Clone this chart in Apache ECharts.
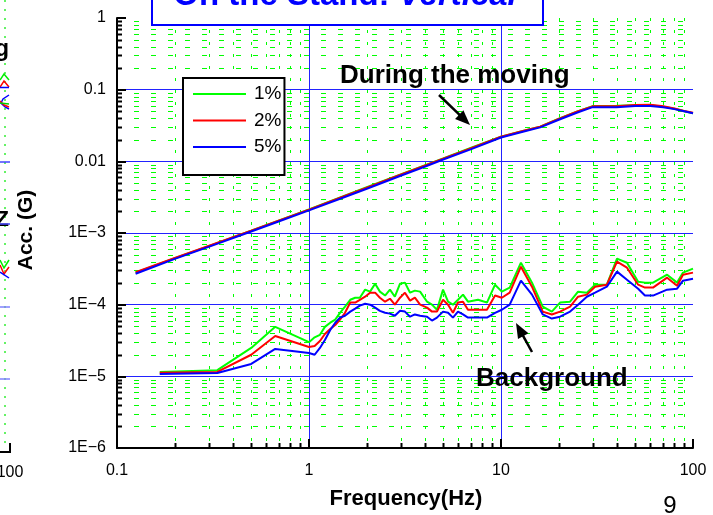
<!DOCTYPE html>
<html>
<head>
<meta charset="utf-8">
<script src="https://cdn.jsdelivr.net/npm/echarts@6.0.0/dist/echarts.min.js"></script>
<style>
html, body { margin: 0; padding: 0; background: #fff; }
#chart { width: 713px; height: 515px; }
</style>
</head>
<body>
<div id="chart"></div>
<script>
// Acceleration spectra on the stand, vertical direction (Hz vs G)
const seriesNames = ['1%', '2%', '5%'];
const seriesColors = ['#00ff00', '#ff0000', '#0000ff'];

// Spectrum while the stand is moving
const movingFreq = [0.125, 0.2, 0.3, 0.5, 0.7, 1, 1.5, 2, 3, 4, 5, 7, 10, 13, 16, 20, 25, 30, 40, 50, 60, 70, 80, 90, 100];
const moving1 = [2.8e-4, 4.45e-4, 6.55e-4, 1.08e-3, 1.5e-3, 2.13e-3, 3.25e-3, 4.35e-3, 6.55e-3, 8.8e-3, 1.1e-2, 1.55e-2, 2.2e-2, 2.65e-2, 3.05e-2, 3.95e-2, 4.95e-2, 5.9e-2, 5.95e-2, 6.05e-2, 6.05e-2, 5.8e-2, 5.4e-2, 5.0e-2, 4.7e-2];
const moving2 = [2.85e-4, 4.5e-4, 6.6e-4, 1.08e-3, 1.5e-3, 2.12e-3, 3.2e-3, 4.3e-3, 6.5e-3, 8.7e-3, 1.09e-2, 1.53e-2, 2.2e-2, 2.65e-2, 3.05e-2, 3.9e-2, 4.95e-2, 5.85e-2, 5.85e-2, 6.1e-2, 6.15e-2, 5.85e-2, 5.45e-2, 5.05e-2, 4.75e-2];
const moving5 = [2.7e-4, 4.35e-4, 6.4e-4, 1.05e-3, 1.46e-3, 2.07e-3, 3.1e-3, 4.15e-3, 6.3e-3, 8.4e-3, 1.06e-2, 1.48e-2, 2.15e-2, 2.58e-2, 2.98e-2, 3.8e-2, 4.8e-2, 5.7e-2, 5.7e-2, 5.9e-2, 5.9e-2, 5.7e-2, 5.35e-2, 5.0e-2, 4.7e-2];

// Background spectrum (stand at rest)
const bgFreq = [0.167, 0.333, 0.5, 0.667, 1.0,
  1.07, 1.14, 1.21, 1.29, 1.37, 1.45, 1.54, 1.64, 1.74, 1.84, 1.96,
  2.08, 2.21, 2.34, 2.49, 2.64, 2.8, 2.98,
  3.16, 3.36, 3.56, 3.79,
  4.12, 4.37, 4.64, 4.99,
  5.3, 5.62, 5.97,
  6.34, 6.73,
  7.59, 8.45, 9.31,
  10.1, 11.1, 12.7, 14.5, 16.5, 18.4,
  20.3, 22.9, 25.2, 28.0,
  30.9, 35.6,
  40.2, 45.3,
  51.8, 56.2, 61.9,
  73.3, 82.6, 88.7, 100];
const bg1 = [1.15e-5, 1.22e-5, 2.49e-5, 4.9e-5, 3.0e-5,
  3.5e-5, 3.8e-5, 4.9e-5, 5.6e-5, 6.2e-5, 7.7e-5, 9.4e-5, 1.17e-4, 1.25e-4, 1.25e-4, 1.62e-4,
  1.52e-4, 1.96e-4, 1.52e-4, 1.34e-4, 1.62e-4, 1.29e-4, 1.96e-4,
  2.03e-4, 1.47e-4, 1.57e-4, 1.52e-4,
  1.10e-4, 1.0e-4, 8.5e-5, 1.62e-4,
  1.10e-4, 1.0e-4, 1.17e-4,
  1.38e-4, 1.10e-4,
  1.17e-4, 1.07e-4, 1.90e-4,
  1.52e-4, 1.73e-4, 3.85e-4, 2.03e-4, 9.4e-5, 8.0e-5,
  1.07e-4, 1.10e-4, 1.52e-4, 1.47e-4,
  1.90e-4, 1.90e-4,
  4.38e-4, 3.85e-4,
  2.09e-4, 2.03e-4, 2.03e-4,
  2.62e-4, 2.03e-4, 2.80e-4, 3.18e-4];
const bg2 = [1.12e-5, 1.15e-5, 2.0e-5, 3.66e-5, 2.57e-5,
  2.65e-5, 3.11e-5, 3.9e-5, 4.58e-5, 5.2e-5, 6.2e-5, 7.7e-5, 1.07e-4, 1.07e-4, 1.17e-4, 1.29e-4,
  1.47e-4, 1.47e-4, 1.25e-4, 1.10e-4, 1.21e-4, 1.0e-4, 1.25e-4,
  1.47e-4, 1.14e-4, 1.25e-4, 1.0e-4,
  9.1e-5, 8.0e-5, 8.0e-5, 1.17e-4,
  1.0e-4, 7.7e-5, 1.07e-4,
  1.10e-4, 8.5e-5,
  8.5e-5, 8.5e-5, 1.34e-4,
  1.25e-4, 1.47e-4, 3.39e-4, 1.78e-4, 8.0e-5, 7.3e-5,
  8.0e-5, 9.4e-5, 1.29e-4, 1.38e-4,
  1.78e-4, 1.90e-4,
  3.98e-4, 3.28e-4,
  1.90e-4, 1.73e-4, 1.73e-4,
  2.38e-4, 1.84e-4, 2.62e-4, 2.80e-4];
const bg5 = [1.08e-5, 1.11e-5, 1.49e-5, 2.41e-5, 2.12e-5,
  2.0e-5, 2.49e-5, 3.21e-5, 4.43e-5, 5.6e-5, 6.6e-5, 7.0e-5, 8.0e-5, 8.8e-5, 9.7e-5, 1.03e-4,
  1.0e-4, 9.1e-5, 8.2e-5, 7.7e-5, 7.5e-5, 7.0e-5, 8.2e-5,
  8.0e-5, 6.8e-5, 7.3e-5, 7.0e-5,
  6.8e-5, 6.0e-5, 6.6e-5, 8.0e-5,
  7.7e-5, 6.6e-5, 8.0e-5,
  7.3e-5, 6.6e-5,
  6.6e-5, 6.6e-5, 7.7e-5,
  8.5e-5, 1.0e-4, 2.16e-4, 1.38e-4, 7.3e-5, 6.4e-5,
  6.8e-5, 8.0e-5, 1.0e-4, 1.29e-4,
  1.47e-4, 1.78e-4,
  2.89e-4, 2.23e-4,
  1.67e-4, 1.34e-4, 1.34e-4,
  1.62e-4, 1.67e-4, 2.16e-4, 2.30e-4];

// Axis tick labels, one per decade
const xTickText = ['0.1', '1', '10', '100'];            // 1e-1 .. 1e2
const yTickText = ['1E\u22126', '1E\u22125', '1E\u22124', '1E\u22123', '0.01', '0.1', '1']; // 1e-6 .. 1e0

const X_MIN = 0.1, X_MAX = 100, Y_MIN = 1e-6, Y_MAX = 1;
const LABEL_FONT = '"Liberation Sans", Arial, sans-serif';

function zip(xs, ys) { return xs.map((x, i) => [x, ys[i]]); }

// Minor gridline positions: 2..9 within each decade
const minorItems = [];
for (let e = -1; e < 2; e++) for (let k = 2; k <= 9; k++) minorItems.push([k * Math.pow(10, e), 1e-3, 0]);
for (let e = -6; e < 0; e++) for (let k = 2; k <= 9; k++) minorItems.push([1, k * Math.pow(10, e), 1]);

const chart = echarts.init(document.getElementById('chart'), null, { renderer: 'canvas' });

const lineSeries = [];
const movingSets = [moving1, moving2, moving5];
const bgSets = [bg1, bg2, bg5];
for (let i = 0; i < 3; i++) {
  lineSeries.push({
    name: seriesNames[i], type: 'line', symbol: 'none', z: 3 + i,
    lineStyle: { color: seriesColors[i], width: 2 }, itemStyle: { color: seriesColors[i] },
    data: zip(movingFreq, movingSets[i])
  });
  lineSeries.push({
    name: seriesNames[i], type: 'line', symbol: 'none', z: 3 + i,
    lineStyle: { color: seriesColors[i], width: 2 }, itemStyle: { color: seriesColors[i] },
    data: zip(bgFreq, bgSets[i])
  });
}

function arrow(x0, y0, x1, y1) {
  const dx = x1 - x0, dy = y1 - y0, len = Math.hypot(dx, dy);
  const ux = dx / len, uy = dy / len, nx = -uy, ny = ux;
  const hl = 15, hw = 6;
  const bx = x1 - ux * hl, by = y1 - uy * hl;
  return [
    { type: 'line', shape: { x1: x0, y1: y0, x2: bx + ux * 2, y2: by + uy * 2 }, style: { stroke: '#000', lineWidth: 2.5 }, z: 100 },
    { type: 'polygon', shape: { points: [[x1, y1], [bx + nx * hw, by + ny * hw], [bx - nx * hw, by - ny * hw]] }, style: { fill: '#000' }, z: 100 }
  ];
}

function seg(x1, y1, x2, y2, color, w, dash) {
  return { type: 'line', shape: { x1, y1, x2, y2 }, style: { stroke: color, lineWidth: w || 1.5, lineDash: dash || null }, z: 100 };
}
function poly(points, color) {
  return { type: 'polyline', shape: { points }, style: { stroke: color, lineWidth: 1.5, fill: null }, z: 100 };
}

const graphics = [
  // neighbouring panel edge on the left
  seg(5, 0, 5, 445, '#33ee33', 1.5, [2, 7]),
  { type: 'text', x: 9, y: 50, style: { text: 'g', font: 'bold 23px ' + LABEL_FONT, fill: '#000', align: 'right', verticalAlign: 'middle' }, z: 100 },
  poly([[0, 80], [4, 74], [9, 80]], '#00ee00'),
  poly([[0, 87], [4, 81], [9, 87]], '#ff0000'),
  seg(0, 87.5, 9, 87.5, '#0000ff', 1.5),
  poly([[9, 95], [3, 99], [1, 103], [5, 107], [9, 109]], '#0000ff'),
  poly([[0, 101], [4, 105], [9, 107]], '#ff0000'),
  poly([[0, 103], [9, 104]], '#00cc00'),
  seg(0, 162, 10, 162, '#4444ff', 1.5),
  { type: 'text', x: 9, y: 220, style: { text: 'Z', font: 'bold 22px ' + LABEL_FONT, fill: '#000', align: 'right', verticalAlign: 'middle' }, z: 100 },
  seg(0, 224, 10, 224, '#4444ff', 1.5),
  poly([[0, 260], [4, 268], [9, 260]], '#00ee00'),
  poly([[0, 265], [4, 274], [9, 267]], '#ff0000'),
  poly([[0, 272], [9, 278]], '#0000ff'),
  seg(0, 307, 10, 307, '#8080ff', 1.5),
  seg(0, 379, 10, 379, '#8080ff', 1.5),
  seg(10, 443, 10, 453, '#000', 2),
  seg(0, 452, 11, 452, '#000', 2),
  { type: 'text', x: 10, y: 473, style: { text: '100', font: '16px ' + LABEL_FONT, fill: '#000', align: 'center', verticalAlign: 'middle' }, z: 100 },

  // title box at top
  { type: 'rect', shape: { x: 152, y: -10, width: 391, height: 35 }, style: { fill: '#fff', stroke: '#0000ff', lineWidth: 2 }, z: 90 },
  { type: 'text', x: 345, y: -4, style: {
      text: '{a|On the Stand: }{b|Vertical}', align: 'center', verticalAlign: 'middle',
      rich: {
        a: { font: 'bold 33px ' + LABEL_FONT, fill: '#0000ff' },
        b: { font: 'italic bold 33px ' + LABEL_FONT, fill: '#0000ff' }
      } }, z: 95 },

  // annotations
  { type: 'text', x: 340, y: 76, style: { text: 'During the moving', font: 'bold 26px ' + LABEL_FONT, fill: '#000', align: 'left', verticalAlign: 'middle' }, z: 100 },
  ...arrow(439, 95, 470, 125),
  { type: 'text', x: 476, y: 379, style: { text: 'Background', font: 'bold 26px ' + LABEL_FONT, fill: '#000', align: 'left', verticalAlign: 'middle' }, z: 100 },
  ...arrow(532, 352, 516, 323),

  // axis titles
  { type: 'text', x: 26, y: 230, rotation: Math.PI / 2, style: { text: 'Acc. (G)', font: 'bold 21px ' + LABEL_FONT, fill: '#000', align: 'center', verticalAlign: 'middle' }, z: 100 },
  { type: 'text', x: 406, y: 499, style: { text: 'Frequency(Hz)', font: 'bold 22px ' + LABEL_FONT, fill: '#000', align: 'center', verticalAlign: 'middle' }, z: 100 },

  // page number
  { type: 'text', x: 670, y: 506, style: { text: '9', font: '24px ' + LABEL_FONT, fill: '#000', align: 'center', verticalAlign: 'middle' }, z: 100 }
];

chart.setOption({
  animation: false,
  backgroundColor: '#fff',
  grid: { left: 117, right: 20, top: 18, bottom: 67, outerBoundsMode: 'none', containLabel: false },
  legend: {
    data: seriesNames,
    orient: 'vertical', left: 183, top: 78,
    padding: [6, 3, 18, 10],
    icon: 'rect',
    itemWidth: 53, itemHeight: 2, itemGap: 6.5,
    backgroundColor: '#fff', borderColor: '#000', borderWidth: 2, borderRadius: 0,
    textStyle: { fontFamily: LABEL_FONT, fontSize: 19, lineHeight: 20, color: '#000', padding: [0, 0, 0, 3] },
    z: 50
  },
  xAxis: {
    type: 'log', logBase: 10, min: X_MIN, max: X_MAX, splitNumber: 3,
    axisLine: { lineStyle: { color: '#000', width: 2 } },
    axisTick: { inside: true, length: 9, lineStyle: { color: '#000', width: 2 } },
    axisLabel: { color: '#000', fontFamily: LABEL_FONT, fontSize: 16, margin: 15,
      formatter: v => xTickText[Math.round(Math.log10(v)) + 1] },
    splitLine: { show: true, showMinLine: false, showMaxLine: false, lineStyle: { color: '#2222ff', width: 1 } }
  },
  yAxis: {
    type: 'log', logBase: 10, min: Y_MIN, max: Y_MAX, splitNumber: 6,
    axisLine: { lineStyle: { color: '#000', width: 2 } },
    axisTick: { inside: true, length: 9, lineStyle: { color: '#000', width: 2 } },
    axisLabel: { color: '#000', fontFamily: LABEL_FONT, fontSize: 16, margin: 11,
      formatter: v => yTickText[Math.round(Math.log10(v)) + 6] },
    splitLine: { show: true, showMinLine: false, showMaxLine: false, lineStyle: { color: '#2222ff', width: 1 } }
  },
  series: [
    {
      type: 'custom', silent: true, z: 1, clip: false,
      data: minorItems,
      renderItem: function (params, api) {
        const cs = params.coordSys;
        const kind = api.value(2);
        if (kind === 0) {
          const px = Math.round(api.coord([api.value(0), 1e-3])[0]) + 0.5;
          return { type: 'group', children: [
            { type: 'line', shape: { x1: px, y1: cs.y, x2: px, y2: cs.y + cs.height }, style: { stroke: '#00ff00', lineWidth: 1, lineDash: [3, 9] } },
            { type: 'line', shape: { x1: px, y1: cs.y + cs.height, x2: px, y2: cs.y + cs.height - 5 }, style: { stroke: '#000', lineWidth: 2 } }
          ] };
        } else {
          const py = Math.round(api.coord([1, api.value(1)])[1]) + 0.5;
          return { type: 'group', children: [
            { type: 'line', shape: { x1: cs.x, y1: py, x2: cs.x + cs.width, y2: py }, style: { stroke: '#00ff00', lineWidth: 1, lineDash: [5, 12] } },
            { type: 'line', shape: { x1: cs.x, y1: py, x2: cs.x + 5, y2: py }, style: { stroke: '#000', lineWidth: 2 } }
          ] };
        }
      }
    },
    ...lineSeries
  ],
  graphic: graphics
});
</script>
</body>
</html>
